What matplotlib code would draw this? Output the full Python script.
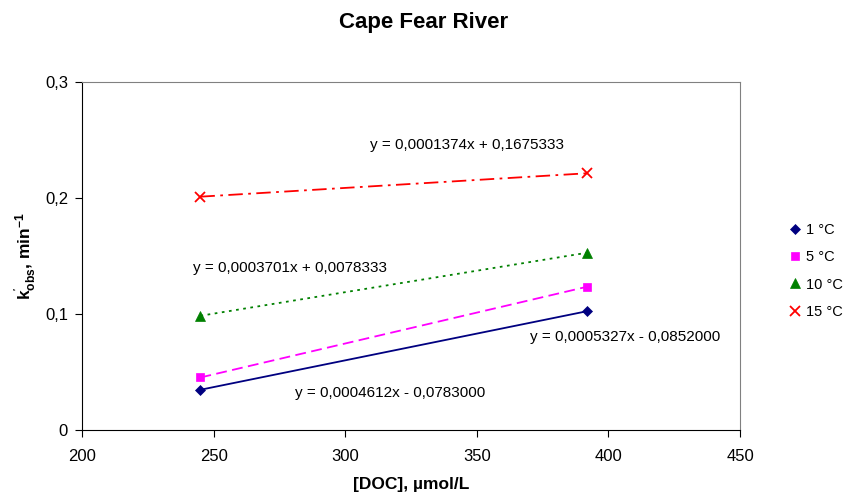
import numpy as np
import matplotlib
matplotlib.use("Agg")
import matplotlib.pyplot as plt
from matplotlib.ticker import FuncFormatter

plt.rcParams['font.family'] = ['Liberation Sans', 'DejaVu Sans']
plt.rcParams['mathtext.fontset'] = 'custom'
plt.rcParams['mathtext.rm'] = 'Liberation Sans'
plt.rcParams['mathtext.bf'] = 'Liberation Sans:bold'

# données
doc = [245, 392]
labels = ['1 °C', '5 °C', '10 °C', '15 °C']
k_1 = [0.0347, 0.1025]
k_5 = [0.0453, 0.1236]
k_10 = [0.0985, 0.1529]
k_15 = [0.2012, 0.2214]
equations = ['y = 0,0004612x - 0,0783000',
             'y = 0,0005327x - 0,0852000',
             'y = 0,0003701x + 0,0078333',
             'y = 0,0001374x + 0,1675333']

series = [k_1, k_5, k_10, k_15]
colors = ['#000080', '#FF00FF', '#008000', '#FF0000']
markers = ['D', 's', '^', 'x']
msizes = [5, 6, 7, 7]
styles = ['-', (0, (6, 3)), (0, (1.5, 2.5)), (0, (8, 3, 1.5, 3))]
eq_pos = [(0.468, 0.106), (0.825, 0.267), (0.316, 0.466), (0.585, 0.819)]

fig = plt.figure(figsize=(8.47, 4.97), dpi=100)
ax = fig.add_axes([0.0968, 0.1348, 0.7769, 0.700])

for vals, lab, c, m, ms, ls, eq, pos in zip(series, labels, colors, markers,
                                             msizes, styles, equations, eq_pos):
    ax.plot(doc, vals, linestyle='none', marker=m, color=c, markersize=ms,
            markeredgewidth=1.3 if m == 'x' else 0.5, label=lab)
    # courbe de tendance linéaire
    coef = np.polyfit(doc, vals, 1)
    ax.plot(doc, np.polyval(coef, doc), linestyle=ls, color=c, linewidth=1.3)
    ax.text(pos[0], pos[1], eq, transform=ax.transAxes, ha='center',
            va='center', fontsize=11)

ax.set_xlim(200, 450)
ax.set_ylim(0, 0.3)
ax.set_xticks([200, 250, 300, 350, 400, 450])
ax.set_yticks([0, 0.1, 0.2, 0.3])
ax.yaxis.set_major_formatter(FuncFormatter(lambda v, p: ('%g' % round(v, 2)).replace('.', ',')))
ax.tick_params(direction='out', length=5, labelsize=12, pad=5)
ax.tick_params(axis='x', pad=9)

for s in ['top', 'right']:
    ax.spines[s].set_color('#808080')
for s in ['left', 'bottom']:
    ax.spines[s].set_color('black')

fig.text(0.5, 0.955, 'Cape Fear River', fontsize=16, fontweight='bold',
         ha='center', va='center')

ax.set_xlabel('[DOC], µmol/L', fontsize=12.5, fontweight='bold', labelpad=9)
ax.set_ylabel(r"$\mathbf{k^{'}_{obs}}$, $\mathbf{min^{-1}}$", fontsize=12.5,
              fontweight='bold', labelpad=5)

ax.legend(loc='center left', bbox_to_anchor=(1.052, 0.457), frameon=False,
          fontsize=10.5, handletextpad=0.3, labelspacing=0.9, handlelength=1.0)

fig.savefig('out.png', dpi=100)
